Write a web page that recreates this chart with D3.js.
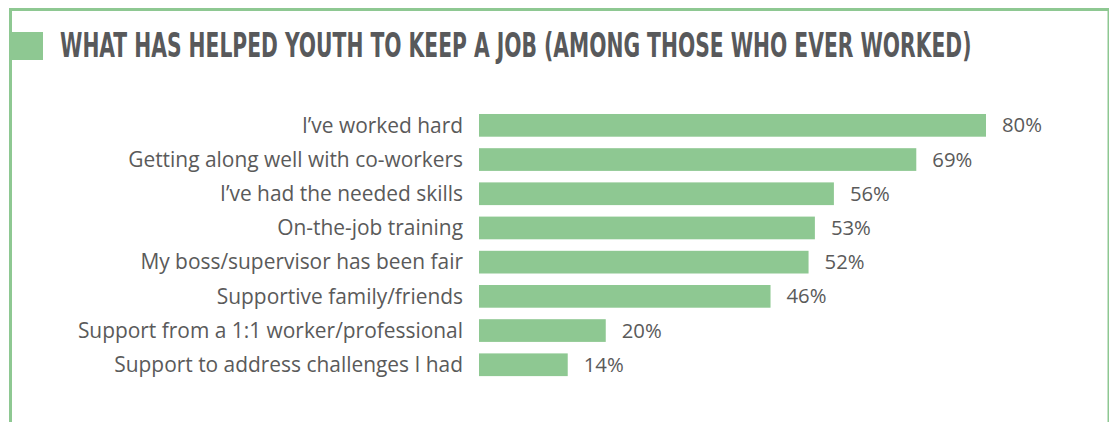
<!DOCTYPE html>
<html>
<head>
<meta charset="utf-8">
<script src="https://cdn.jsdelivr.net/npm/d3@7"></script>
<style>
  html, body { margin: 0; padding: 0; background: #fff; }
  svg { display: block; }
</style>
</head>
<body>
<svg id="chart" width="1110" height="422"></svg>
<script>
// Survey answers: what has helped youth keep a job (among those who ever worked)
const titleText = "WHAT HAS HELPED YOUTH TO KEEP A JOB (AMONG THOSE WHO EVER WORKED)";
const categories = [
  "I\u2019ve worked hard",
  "Getting along well with co-workers",
  "I\u2019ve had the needed skills",
  "On-the-job training",
  "My boss/supervisor has been fair",
  "Supportive family/friends",
  "Support from a 1:1 worker/professional",
  "Support to address challenges I had"
];
const values = [80, 69, 56, 53, 52, 46, 20, 14];
const valueLabels = ["80%", "69%", "56%", "53%", "52%", "46%", "20%", "14%"];

const green = "#8ec892";
const textGrey = "#5a5a5a";
const titleGrey = "#58595b";

const svg = d3.select("#chart");

// Frame: heavy top and left rules, thin right rule
svg.append("rect").attr("x", 9).attr("y", 8).attr("width", 1100).attr("height", 3).attr("fill", green);
svg.append("rect").attr("x", 9).attr("y", 8).attr("width", 3).attr("height", 414).attr("fill", green);
svg.append("rect").attr("x", 1107.5).attr("y", 8).attr("width", 1.5).attr("height", 414).attr("fill", green);

// Title marker block and a condensed heading (squeezed horizontally to span 912px)
svg.append("rect").attr("x", 12).attr("y", 32).attr("width", 31).attr("height", 28).attr("fill", green);
const titleFont = "'Liberation Sans Narrow', 'DejaVu Sans Condensed', 'Roboto', sans-serif";
const titleG = svg.append("g").attr("transform", "translate(60,57)");
const title = titleG.append("text")
  .attr("x", 0).attr("y", 0)
  .attr("font-family", titleFont)
  .attr("font-weight", 700)
  .attr("font-size", 33)
  .attr("fill", titleGrey)
  .text(titleText);
const titleW = title.node().getComputedTextLength();
title.attr("transform", `scale(${912 / titleW},1)`);

// Scales
const x = d3.scaleLinear().domain([0, 100]).range([479, 1112.75]);
const y = d3.scaleBand().domain(categories).range([102.5, 387.6]).paddingInner(0.336).paddingOuter(0.336);

const labelFont = "'Open Sans', 'Noto Sans', sans-serif";

// Fit category label size so the text block spans the same width as the design
const probe = svg.append("text").attr("font-family", labelFont).attr("font-size", 20)
  .text("Getting along well with co-workers");
const probeW = probe.node().getComputedTextLength();
probe.remove();
const labelSize = 20 * 335 / probeW;

const probe2 = svg.append("text").attr("font-family", labelFont).attr("font-size", 20).text("80%");
const probe2W = probe2.node().getComputedTextLength();
probe2.remove();
const valueSize = 20 * 40 / probe2W;

const g = svg.append("g");

// Bars
g.selectAll("rect.bar")
  .data(values)
  .join("rect")
  .attr("class", "bar")
  .attr("x", x(0))
  .attr("y", (d, i) => y(categories[i]))
  .attr("width", d => x(d) - x(0))
  .attr("height", y.bandwidth())
  .attr("fill", green);

// Category axis (labels only)
const yAxis = d3.axisLeft(y).tickSize(0).tickPadding(0);
const axisG = svg.append("g").attr("transform", `translate(${x(0) - 16},0)`).call(yAxis);
axisG.select(".domain").remove();
axisG.selectAll("text")
  .attr("font-family", labelFont)
  .attr("font-size", labelSize)
  .attr("fill", textGrey)
  .attr("dy", "0.35em");

// Value labels
g.selectAll("text.val")
  .data(values)
  .join("text")
  .attr("class", "val")
  .attr("x", d => x(d) + 16)
  .attr("y", (d, i) => y(categories[i]) + y.bandwidth() / 2)
  .attr("dy", "0.35em")
  .attr("font-family", labelFont)
  .attr("font-size", valueSize)
  .attr("fill", textGrey)
  .text((d, i) => valueLabels[i]);
</script>
</body>
</html>
